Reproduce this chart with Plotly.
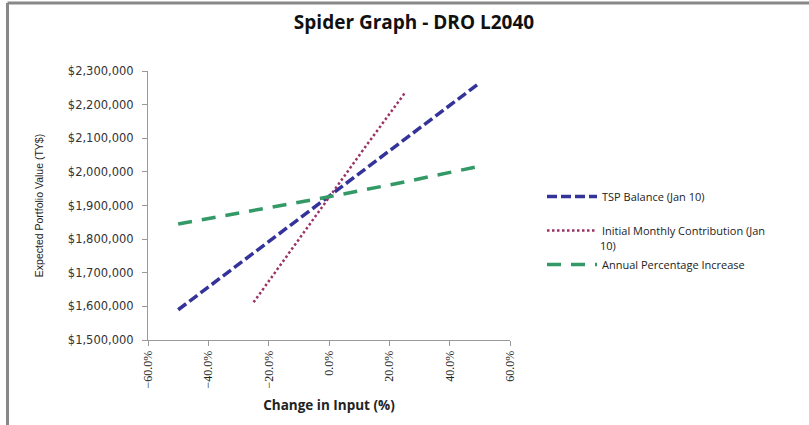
import plotly.graph_objects as go

# data (change in input as fraction, expected portfolio value in $)
tsp_x = [-0.50, -0.25, 0.0, 0.25, 0.50]
tsp_y = [1590000, 1758000, 1926000, 2095000, 2265000]

imc_x = [-0.25, -0.125, 0.0, 0.125, 0.25]
imc_y = [1612000, 1768000, 1925000, 2080000, 2233000]

api_x = [-0.50, -0.25, 0.0, 0.25, 0.50]
api_y = [1845000, 1885000, 1926000, 1970000, 2017000]

series_names = ["TSP Balance (Jan 10)", "Initial Monthly Contribution (Jan", "Annual Percentage Increase"]
name_continuation = "10)"

x_ticks = [-0.6, -0.4, -0.2, 0.0, 0.2, 0.4, 0.6]
y_ticks = [1500000, 1600000, 1700000, 1800000, 1900000, 2000000, 2100000, 2200000, 2300000]
y_tick_labels = ["$1,500,000", "$1,600,000", "$1,700,000", "$1,800,000", "$1,900,000",
                 "$2,000,000", "$2,100,000", "$2,200,000", "$2,300,000"]

W, H = 809, 425
L, R, T, B = 148, 299, 71, 85
pw = W - L - R
ph = H - T - B

fig = go.Figure()
fig.add_trace(go.Scatter(x=tsp_x, y=tsp_y, mode="lines", name=series_names[0],
                         legendgroup="a",
                         line=dict(color="#333399", width=3.5, dash="10px,4px")))
fig.add_trace(go.Scatter(x=imc_x, y=imc_y, mode="lines", name=series_names[1],
                         legendgroup="b",
                         line=dict(color="#993366", width=2.5, dash="2.5px,2.5px")))
fig.add_trace(go.Scatter(x=api_x, y=api_y, mode="lines", name=series_names[2],
                         legendgroup="c",
                         line=dict(color="#339966", width=3.5, dash="14px,10px")))

fig.update_layout(
    width=W, height=H,
    margin=dict(l=L, r=R, t=T, b=B),
    paper_bgcolor="white", plot_bgcolor="white",
    title=dict(text="<b>Spider Graph - DRO L2040</b>", x=414 / W, xanchor="center",
               y=1 - 22 / H, yanchor="middle",
               font=dict(family="Open Sans", size=19, color="#111")),
    xaxis=dict(range=[-0.6, 0.6], tickvals=x_ticks, tickformat=".1%", tickangle=-90,
               showgrid=False, zeroline=False, showline=True, linecolor="#999", linewidth=1,
               ticks="outside", ticklen=5, tickcolor="#999", automargin=False,
               tickfont=dict(family="Liberation Serif", size=12, color="#222"),
               title=dict(text="<b>Change in Input (%)</b>", standoff=12,
                          font=dict(family="Open Sans", size=13.5, color="#222"))),
    yaxis=dict(range=[1500000, 2300000], tickvals=y_ticks, ticktext=y_tick_labels,
               showgrid=False, zeroline=False, showline=True, linecolor="#999", linewidth=1,
               ticks="outside", ticklen=5, tickcolor="#999", automargin=False,
               ticklabelstandoff=6,
               tickfont=dict(family="DejaVu Sans", size=11.5, color="#333"),
               title=dict(text="Expected Portfolio Value (TY$)", standoff=22,
                          font=dict(family="Liberation Sans", size=10.5, color="#222"))),
    legend=dict(x=(542 - L) / pw, y=1 - (182 - T) / ph,
                xanchor="left", yanchor="top", bgcolor="rgba(0,0,0,0)",
                tracegroupgap=15, itemwidth=50,
                font=dict(family="Open Sans", size=11, color="#222")),
    showlegend=True,
)

# continuation of the wrapped legend label
fig.add_annotation(text=name_continuation, xref="paper", yref="paper",
                   x=(598 - L) / pw, y=1 - (245 - T) / ph, xanchor="left", yanchor="middle",
                   showarrow=False, font=dict(family="Open Sans", size=11, color="#222"))

# outer chart frame (gray left and top edge)
fig.add_shape(type="line", xref="paper", yref="paper",
              x0=(7.5 - L) / pw, x1=(W - L) / pw, y0=(H - 3 - B) / ph, y1=(H - 3 - B) / ph,
              line=dict(color="#888", width=3))
fig.add_shape(type="line", xref="paper", yref="paper",
              x0=(7.5 - L) / pw, x1=(7.5 - L) / pw, y0=(H - 3 - B) / ph, y1=(0 - B) / ph,
              line=dict(color="#888", width=3))

fig.write_html("out.html", config={"displayModeBar": False},
               post_script="document.body.style.margin='0';")
